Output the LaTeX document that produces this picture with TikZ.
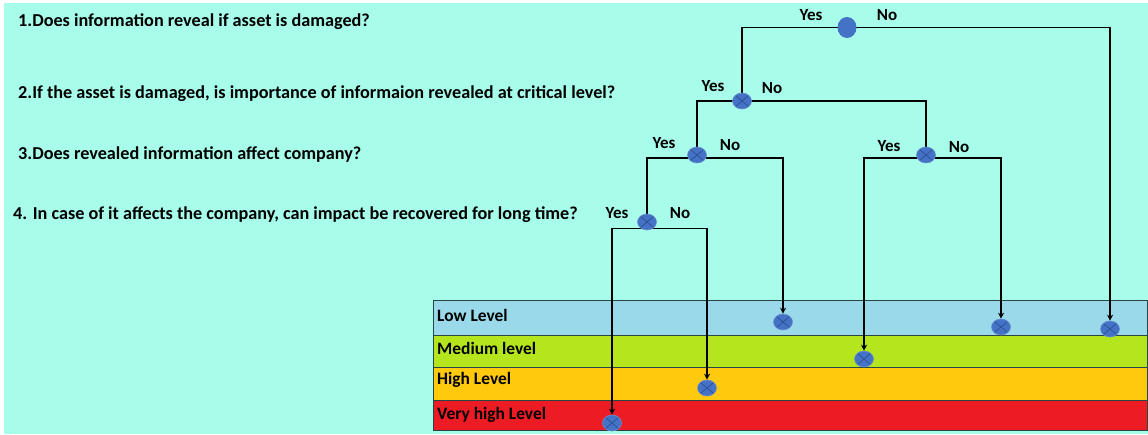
\documentclass[tikz,border=0pt]{standalone}
\usepackage{fontspec}
\setmainfont{Carlito}
\usetikzlibrary{arrows.meta}
\pgfdeclarelayer{bg}
\pgfdeclarelayer{lines}
\pgfsetlayers{bg,lines,main}
\definecolor{aqua}{RGB}{168,252,234}
\definecolor{lowc}{RGB}{153,217,234}
\definecolor{medc}{RGB}{181,230,29}
\definecolor{highc}{RGB}{255,201,14}
\definecolor{vhc}{RGB}{237,28,36}
\definecolor{dotc}{RGB}{68,114,196}
\definecolor{dotx}{RGB}{45,80,150}
\definecolor{barline}{RGB}{40,70,70}
\tikzset{
  question/.style={anchor=west, inner sep=0pt, font=\bfseries\fontsize{18.2}{20}\selectfont},
  yn/.style={inner sep=0pt, font=\bfseries\fontsize{17}{19}\selectfont},
  lvl/.style={anchor=west, inner sep=0pt, font=\bfseries\fontsize{17.4}{19}\selectfont},
  rootdot/.style={ellipse, draw=none, fill=dotc, minimum width=19pt, minimum height=21pt, inner sep=0pt},
  xdot/.style={ellipse, draw=dotc!80!white, line width=0.6pt, fill=dotc, minimum width=19pt, minimum height=16pt, inner sep=0pt,
    path picture={\draw[dotx, line width=0.7pt]
      (path picture bounding box.north west) -- (path picture bounding box.south east)
      (path picture bounding box.south west) -- (path picture bounding box.north east);}},
  branch/.style={line width=1.6pt, black},
  leafarrow/.style={line width=1.4pt, black, -{Stealth[length=6pt,width=6pt]}},
  band/.style={draw=barline, line width=0.9pt},
}
\usetikzlibrary{shapes.geometric}
\begin{document}
\begin{tikzpicture}[x=1pt,y=-1pt]
\useasboundingbox (0,0) rectangle (1148,435);
\begin{pgfonlayer}{bg}
  \fill[white] (0,0) rectangle (1148,435);
  \fill[aqua] (4,3) rectangle (1148,434);
  \draw[band, fill=lowc] (433,300) rectangle (1147,335);
  \draw[band, fill=medc] (433,335) rectangle (1147,367.5);
  \draw[band, fill=highc] (433,367.5) rectangle (1147,400);
  \draw[band, fill=vhc] (433,400) rectangle (1147,430.5);
\end{pgfonlayer}

% questions
\node[question] (q1) at (18,22) {1.Does information reveal if asset is damaged?};
\node[question] (q2) at (18,94) {2.If the asset is damaged, is importance of informaion revealed at critical level?};
\node[question] (q3) at (18,155) {3.Does revealed information affect company?};
\node[question] (q4) at (13,215) {4. In case of it affects the company, can impact be recovered for long time?};

% level labels
\node[lvl] (tlow) at (437,315) {Low Level};
\node[lvl] (tmed) at (437,348) {Medium level};
\node[lvl] (thigh) at (437,380) {High Level};
\node[lvl] (tvh) at (437,415) {Very high Level};

% decision nodes
\node[rootdot] (root) at (847,27.5) {};
\node[xdot] (n2) at (742,101) {};
\node[xdot] (n3a) at (697,155) {};
\node[xdot] (n3b) at (926,155) {};
\node[xdot] (n4) at (647,222) {};

% branch points (where horizontal bars pass)
\coordinate (n3aB) at (697,158);
\coordinate (n3bB) at (926,158);
\coordinate (n4B) at (647,228.5);

% leaves
\node[xdot] (l1) at (783,322) {};
\node[xdot] (l2) at (1001,327) {};
\node[xdot] (l3) at (1110,329) {};
\node[xdot] (m1) at (864,359) {};
\node[xdot] (h1) at (707,388) {};
\node[xdot] (v1) at (612,423) {};

% yes/no labels
\node[yn] (r-yes) at (811,15) {Yes};
\node[yn] (r-no) at (887,15) {No};
\node[yn] (n2-yes) at (713,86) {Yes};
\node[yn] (n2-no) at (772,88) {No};
\node[yn] (n3a-yes) at (664,143) {Yes};
\node[yn] (n3a-no) at (730,145) {No};
\node[yn] (n3b-yes) at (889,146) {Yes};
\node[yn] (n3b-no) at (959,147) {No};
\node[yn] (n4-yes) at (617,213) {Yes};
\node[yn] (n4-no) at (680,213) {No};

\begin{pgfonlayer}{lines}
  \draw[branch] (root.center) -| (n2.center);
  \draw[leafarrow] (root.center) -| (l3.north);
  \draw[branch] (n2.center) -| (n3a.center);
  \draw[branch] (n2.center) -| (n3b.center);
  \draw[branch] (n3aB) -| (n4.center);
  \draw[branch] (n3a.center) -- (n3aB);
  \draw[leafarrow] (n3aB) -| (l1.north);
  \draw[branch] (n3b.center) -- (n3bB);
  \draw[leafarrow] (n3bB) -| (m1.north);
  \draw[leafarrow] (n3bB) -| (l2.north);
  \draw[branch] (n4.center) -- (n4B);
  \draw[leafarrow] (n4B) -| (v1.north);
  \draw[leafarrow] (n4B) -| (h1.north);
\end{pgfonlayer}
\end{tikzpicture}
\end{document}
